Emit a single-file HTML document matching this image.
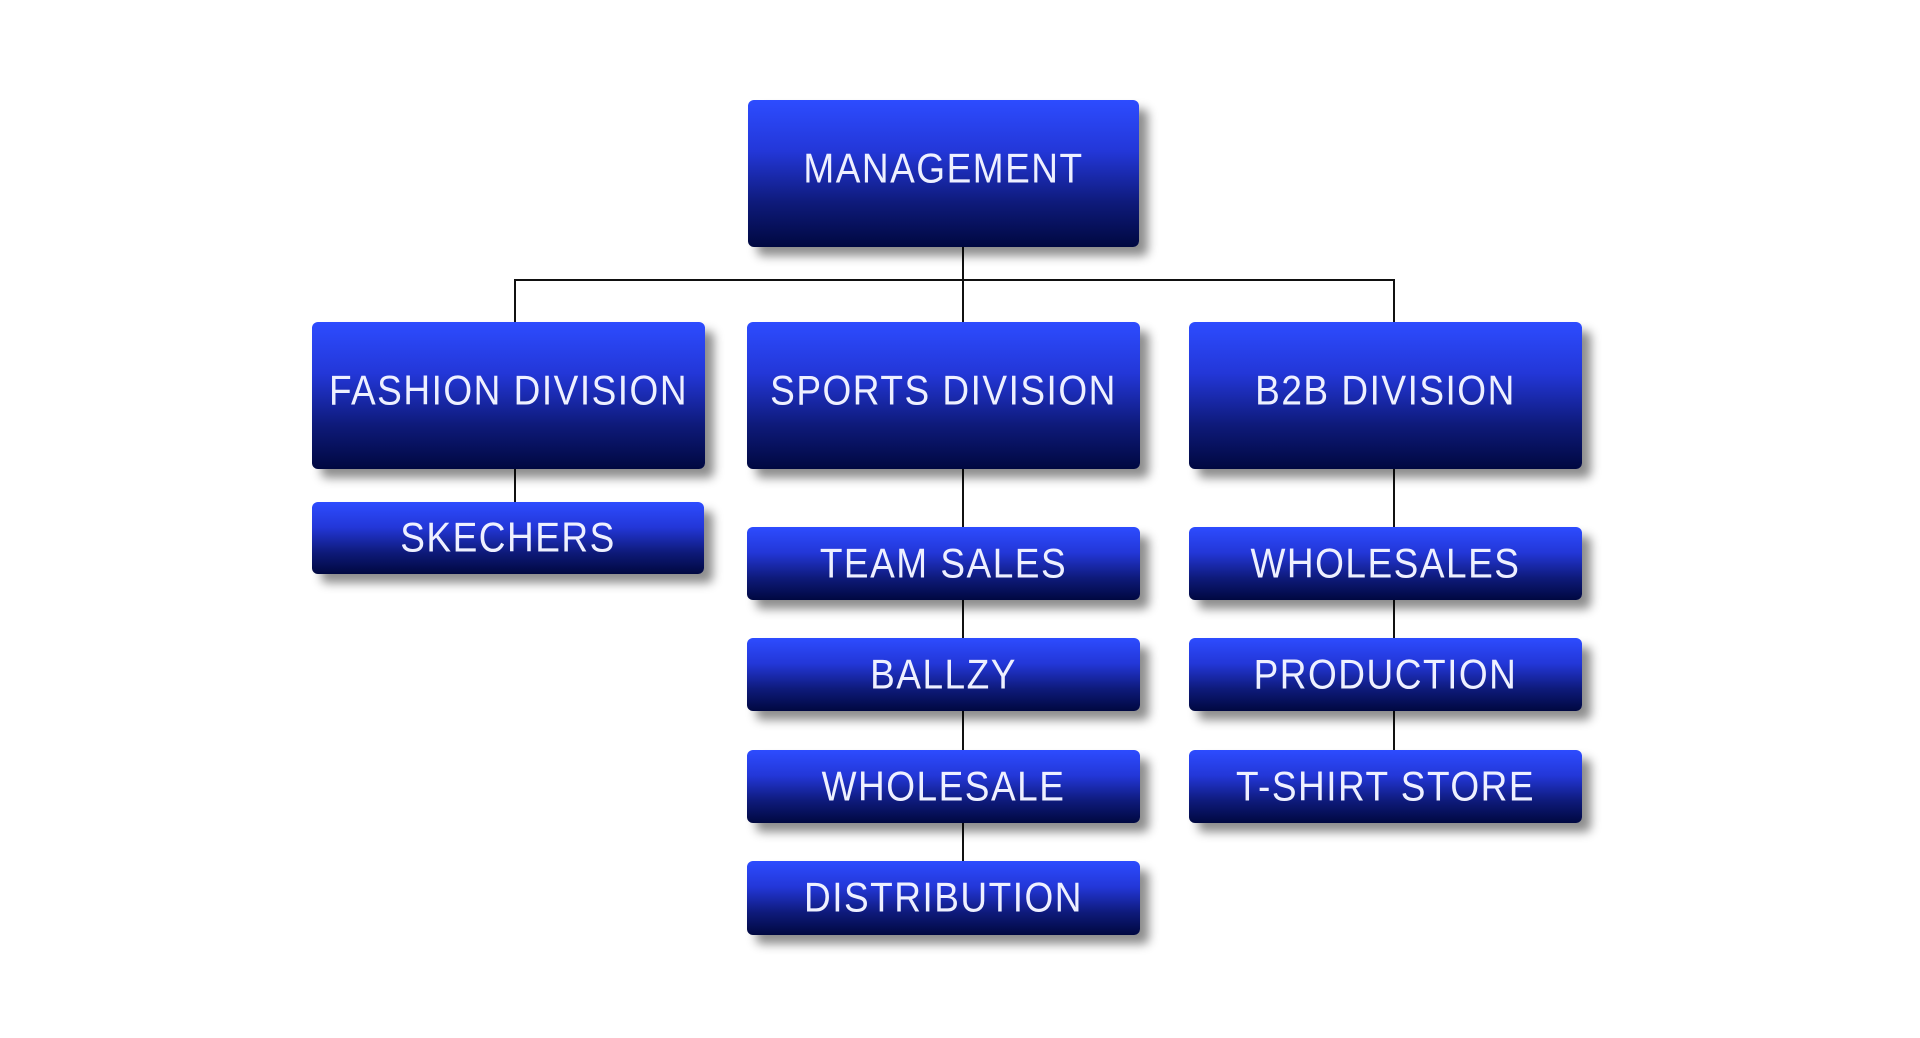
<!DOCTYPE html>
<html><head><meta charset="utf-8"><style>
html,body{margin:0;padding:0;background:#fff;}
body{width:1920px;height:1038px;position:relative;overflow:hidden;font-family:"Liberation Sans","DejaVu Sans",sans-serif;}
.b{position:absolute;border-radius:6px;background:linear-gradient(to bottom,#2d4cff 0%,#2337d8 35%,#0e1a7a 70%,#000840 100%);box-shadow:9px 9px 10px rgba(0,0,0,0.45);color:#eef0ff;display:flex;align-items:center;justify-content:center;font-size:37px;letter-spacing:1.5px;font-weight:normal;white-space:nowrap;}
.b span{display:inline-block;transform:scaleY(1.12);}
.l{position:absolute;background:#111;}
</style></head><body>
<div class="l" style="left:962px;top:246px;width:2px;height:78px"></div>
<div class="l" style="left:514px;top:279px;width:881px;height:2px"></div>
<div class="l" style="left:514px;top:279px;width:2px;height:45px"></div>
<div class="l" style="left:1393px;top:279px;width:2px;height:45px"></div>
<div class="l" style="left:514px;top:468px;width:2px;height:35px"></div>
<div class="l" style="left:962px;top:468px;width:2px;height:395px"></div>
<div class="l" style="left:1393px;top:468px;width:2px;height:285px"></div>

<div class="b" style="left:748px;top:100px;width:391px;height:147px;padding-bottom:10px;box-sizing:border-box"><span>MANAGEMENT</span></div>
<div class="b" style="left:312px;top:322px;width:393px;height:147px;padding-bottom:10px;box-sizing:border-box"><span>FASHION DIVISION</span></div>
<div class="b" style="left:747px;top:322px;width:393px;height:147px;padding-bottom:10px;box-sizing:border-box"><span>SPORTS DIVISION</span></div>
<div class="b" style="left:1189px;top:322px;width:393px;height:147px;padding-bottom:10px;box-sizing:border-box"><span>B2B DIVISION</span></div>
<div class="b" style="left:312px;top:502px;width:392px;height:72px"><span>SKECHERS</span></div>
<div class="b" style="left:747px;top:527px;width:393px;height:73px"><span>TEAM SALES</span></div>
<div class="b" style="left:747px;top:638px;width:393px;height:73px"><span>BALLZY</span></div>
<div class="b" style="left:747px;top:750px;width:393px;height:73px"><span>WHOLESALE</span></div>
<div class="b" style="left:747px;top:861px;width:393px;height:74px"><span>DISTRIBUTION</span></div>
<div class="b" style="left:1189px;top:527px;width:393px;height:73px"><span>WHOLESALES</span></div>
<div class="b" style="left:1189px;top:638px;width:393px;height:73px"><span>PRODUCTION</span></div>
<div class="b" style="left:1189px;top:750px;width:393px;height:73px"><span>T-SHIRT STORE</span></div>
</body></html>
